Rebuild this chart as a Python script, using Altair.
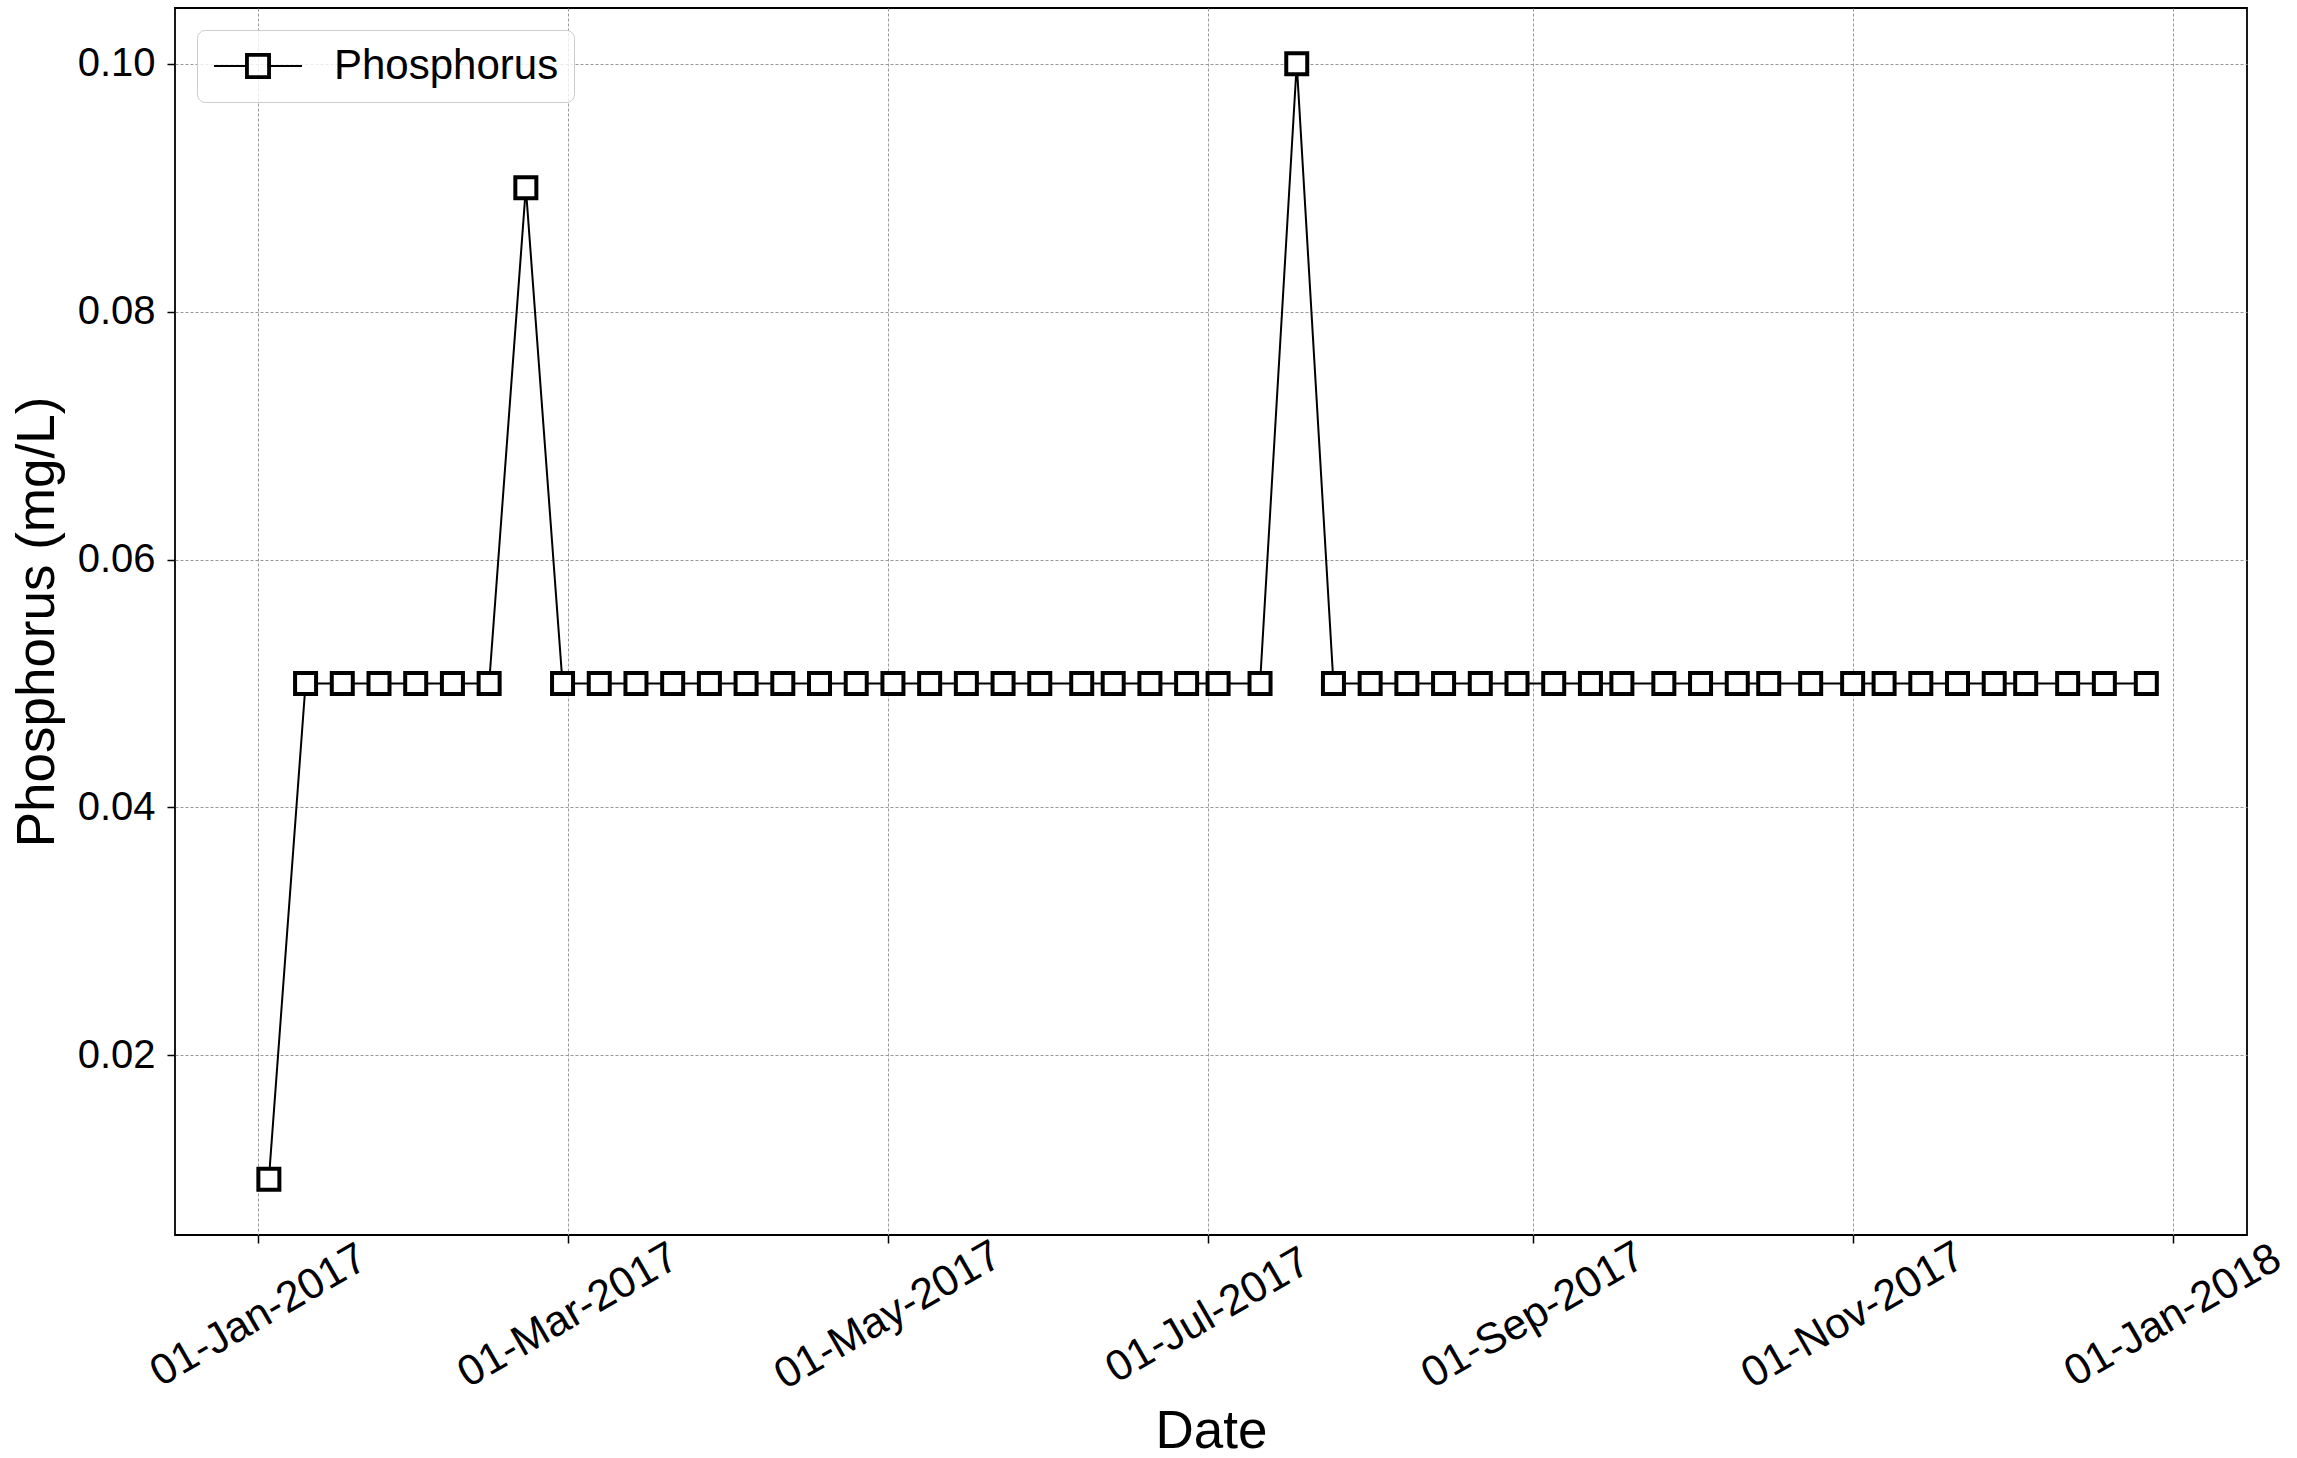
import altair as alt
import pandas as pd

# ---- data ----
dates = [
    "2017-01-03", "2017-01-10", "2017-01-17", "2017-01-24", "2017-01-31",
    "2017-02-07", "2017-02-14", "2017-02-21", "2017-02-28",
    "2017-03-07", "2017-03-14", "2017-03-21", "2017-03-28",
    "2017-04-04", "2017-04-11", "2017-04-18", "2017-04-25",
    "2017-05-02", "2017-05-09", "2017-05-16", "2017-05-23", "2017-05-30",
    "2017-06-07", "2017-06-13", "2017-06-20", "2017-06-27",
    "2017-07-03", "2017-07-11", "2017-07-18", "2017-07-25",
    "2017-08-01", "2017-08-08", "2017-08-15", "2017-08-22", "2017-08-29",
    "2017-09-05", "2017-09-12", "2017-09-18", "2017-09-26",
    "2017-10-03", "2017-10-10", "2017-10-16", "2017-10-24",
    "2017-11-01", "2017-11-07", "2017-11-14", "2017-11-21", "2017-11-28",
    "2017-12-04", "2017-12-12", "2017-12-19", "2017-12-27",
]
phosphorus = [
    0.01, 0.05, 0.05, 0.05, 0.05,
    0.05, 0.05, 0.09, 0.05,
    0.05, 0.05, 0.05, 0.05,
    0.05, 0.05, 0.05, 0.05,
    0.05, 0.05, 0.05, 0.05, 0.05,
    0.05, 0.05, 0.05, 0.05,
    0.05, 0.05, 0.10, 0.05,
    0.05, 0.05, 0.05, 0.05, 0.05,
    0.05, 0.05, 0.05, 0.05,
    0.05, 0.05, 0.05, 0.05,
    0.05, 0.05, 0.05, 0.05, 0.05,
    0.05, 0.05, 0.05, 0.05,
]
series_name = "Phosphorus"
y_ticks = [0.02, 0.04, 0.06, 0.08, 0.10]
x_tick_months = [(2017, 1), (2017, 3), (2017, 5), (2017, 7), (2017, 9), (2017, 11), (2018, 1)]

df = pd.DataFrame({
    "date": [d + "T00:00:00" for d in dates],
    "value": phosphorus,
    "series": [series_name] * len(dates),
})

FONT = "Liberation Sans"

x_values = [alt.DateTime(year=y, month=m, date=1) for y, m in x_tick_months]
x_domain = [alt.DateTime(year=2016, month=12, date=16, hours=2, minutes=24),
            alt.DateTime(year=2018, month=1, date=15, hours=4, minutes=48)]

x_enc = alt.X(
    "date:T",
    scale=alt.Scale(domain=x_domain, nice=False),
    axis=alt.Axis(
        values=x_values, format="%d-%b-%Y", title="Date",
        labelAngle=-30, labelAlign="center", labelBaseline="middle",
        labelPadding=72, labelFontSize=43, labelFont=FONT, labelColor="black",
        labelLimit=0,
        tickSize=8, tickWidth=1.5, tickColor="black", domain=False,
        titleFontSize=53, titleFont=FONT, titleFontWeight="normal", titleColor="black",
        titleX=1036, titleY=212, titleBaseline="alphabetic", titleAlign="center",
        grid=True, gridColor="#999999", gridDash=[3, 2], gridWidth=1,
        labelOverlap=False, labelFlush=False,
    ),
)
y_enc = alt.Y(
    "value:Q",
    scale=alt.Scale(domain=[0.0055, 0.1045], nice=False, zero=False),
    axis=alt.Axis(
        values=y_ticks, format=".2f", title="Phosphorus (mg/L)",
        labelPadding=12, labelFontSize=40, labelFont=FONT, labelColor="black",
        labelLimit=0,
        tickSize=8, tickWidth=1.5, tickColor="black", domain=False,
        titleFontSize=53, titleFont=FONT, titleFontWeight="normal", titleColor="black",
        titleAngle=-90, titleX=-122, titleY=613.5, titleBaseline="alphabetic", titleAlign="center",
        grid=True, gridColor="#999999", gridDash=[3, 2], gridWidth=1,
        labelOverlap=False, labelFlush=False,
    ),
)

legend_symbol = ("M-3.385,0H-0.92M0.92,0H3.385"
                 "M-0.92,-0.92H0.92V0.92H-0.92Z"
                 "M-0.78,-0.78V0.78H0.78V-0.78Z")

base = alt.Chart(df)

line = base.mark_line(strokeWidth=2).encode(
    x=x_enc,
    y=y_enc,
    color=alt.Color(
        "series:N",
        scale=alt.Scale(range=["black"]),
        legend=alt.Legend(
            title=None, orient="none", legendX=22, legendY=22,
            padding=15, fillColor="rgba(255,255,255,0.8)", strokeColor="#cccccc",
            cornerRadius=8, symbolType=legend_symbol, symbolSize=676,
            symbolStrokeWidth=2, symbolStrokeColor="black", symbolFillColor="black",
            symbolOffset=25,
            labelFont=FONT, labelFontSize=42, labelColor="black", labelOffset=55,
            labelLimit=0,
        ),
    ),
)

points = base.mark_point(
    shape="square", filled=True, fill="white", stroke="black",
    strokeWidth=4, size=441, opacity=1,
).encode(x=x_enc, y=y_enc)

chart = alt.layer(line, points).properties(
    width=2072,
    height=1227,
    autosize=alt.AutoSizeParams(type="none"),
    padding={"left": 175, "top": 8, "right": 50, "bottom": 223},
    background="white",
).configure_view(stroke="black", strokeWidth=1.8)

chart.save("out.html", embed_options={"renderer": "svg", "actions": False})
